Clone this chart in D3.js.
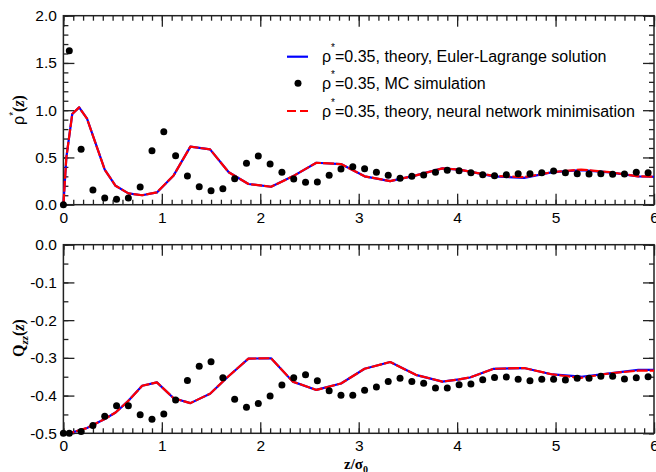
<!DOCTYPE html>
<html><head><meta charset="utf-8">
<script src="https://cdn.jsdelivr.net/npm/d3@7"></script>
<style>
body{margin:0;background:#fff;}
text{font-family:"Liberation Sans",Arial,Helvetica,sans-serif;}
</style></head>
<body>
<svg id="c" width="656" height="472"></svg>
<script>
// ---------- data ----------
const xTicks = [0,1,2,3,4,5,6];
const rhoTicks = [0.0,0.5,1.0,1.5,2.0];
const rhoTickLabels = ["0.0","0.5","1.0","1.5","2.0"];
const qTicks = [0.0,-0.1,-0.2,-0.3,-0.4,-0.5];
const qTickLabels = ["0.0","-0.1","-0.2","-0.3","-0.4","-0.5"];

// theory grid (z/sigma0)
const zTheory = [0,0.03,0.09,0.16,0.24,0.42,0.53,0.66,0.80,0.95,1.12,1.29,1.49,1.68,1.88,2.11,2.33,2.57,2.82,3.06,3.32,3.58,3.85,4.02,4.13,4.37,4.68,4.97,5.26,5.55,5.84,6.0];
// rho*(z), Euler-Lagrange
const rhoEL = [0.0,0.50,0.96,1.03,0.91,0.37,0.20,0.12,0.10,0.13,0.31,0.614,0.586,0.343,0.219,0.19,0.30,0.444,0.43,0.30,0.25,0.31,0.385,0.372,0.35,0.30,0.284,0.345,0.365,0.343,0.300,0.296];
// rho*(z), neural network minimisation
const rhoNN = [0.0,0.50,0.96,1.03,0.91,0.37,0.20,0.12,0.10,0.13,0.31,0.614,0.586,0.343,0.219,0.19,0.30,0.444,0.43,0.30,0.25,0.31,0.385,0.372,0.35,0.305,0.292,0.345,0.372,0.345,0.300,0.296];
// Qzz(z), Euler-Lagrange
const qEL = [-0.5,-0.5,-0.498,-0.492,-0.486,-0.462,-0.445,-0.414,-0.374,-0.365,-0.407,-0.42,-0.395,-0.348,-0.302,-0.301,-0.363,-0.385,-0.368,-0.329,-0.311,-0.345,-0.363,-0.357,-0.352,-0.329,-0.327,-0.344,-0.350,-0.341,-0.332,-0.332];
// Qzz(z), neural network minimisation
const qNN = [-0.5,-0.5,-0.498,-0.492,-0.486,-0.462,-0.445,-0.414,-0.374,-0.365,-0.407,-0.42,-0.395,-0.348,-0.302,-0.301,-0.363,-0.385,-0.368,-0.329,-0.311,-0.345,-0.363,-0.357,-0.352,-0.329,-0.327,-0.344,-0.353,-0.341,-0.334,-0.334];

// MC simulation
const zMC = [0,0.06,0.18,0.30,0.42,0.54,0.66,0.78,0.90,1.02,1.14,1.26,1.38,1.50,1.62,1.74,1.86,1.98,2.10,2.22,2.34,2.46,2.58,2.70,2.82,2.94,3.06,3.18,3.30,3.42,3.54,3.66,3.78,3.90,4.02,4.14,4.26,4.38,4.50,4.62,4.74,4.86,4.98,5.10,5.22,5.34,5.46,5.58,5.70,5.82,5.94];
const rhoMC = [0.0,1.63,0.586,0.156,0.07,0.057,0.07,0.187,0.571,0.773,0.519,0.304,0.19,0.148,0.169,0.275,0.438,0.515,0.43,0.343,0.272,0.237,0.24,0.311,0.378,0.402,0.381,0.343,0.311,0.279,0.30,0.314,0.343,0.364,0.358,0.339,0.317,0.307,0.317,0.328,0.328,0.339,0.357,0.339,0.328,0.325,0.328,0.322,0.325,0.343,0.339];
const qMC = [-0.5,-0.5,-0.495,-0.479,-0.455,-0.427,-0.427,-0.451,-0.463,-0.449,-0.412,-0.36,-0.322,-0.31,-0.353,-0.41,-0.431,-0.421,-0.401,-0.372,-0.353,-0.345,-0.361,-0.387,-0.399,-0.399,-0.386,-0.377,-0.363,-0.354,-0.363,-0.367,-0.38,-0.38,-0.371,-0.369,-0.358,-0.352,-0.351,-0.357,-0.361,-0.357,-0.357,-0.359,-0.354,-0.354,-0.349,-0.349,-0.356,-0.353,-0.35];

const legendLabels = ["=0.35, theory, Euler-Lagrange solution","=0.35, MC simulation","=0.35, theory, neural network minimisation"];

// ---------- drawing ----------
const svg = d3.select("#c");
const x = d3.scaleLinear().domain([0,6]).range([63.4,654]);
const yTop = d3.scaleLinear().domain([0,2]).range([204.7,15.7]);
const yBot = d3.scaleLinear().domain([-0.5,0]).range([433.3,244.7]);

const BLUE="#0000ff", RED="#ff0000";
const MAJ=11, MIN=5;

function panel(y, yMajor, yMajorLabels, yMinorStep, theoryA, theoryB, mc){
  const [y0,y1] = y.range(); // bottom, top
  const g = svg.append("g");
  const xMinor = d3.range(0,6.0001,0.1).map(v=>+v.toFixed(2));
  const d = y.domain();
  const yMinor = d3.range(d[0], d[1]+1e-6, yMinorStep).map(v=>+v.toFixed(3));

  g.append("g").attr("transform",`translate(0,${y0})`)
    .call(d3.axisBottom(x).tickValues(xTicks).tickSize(-MAJ).tickPadding(7).tickFormat(d3.format("d")));
  g.append("g").attr("transform",`translate(0,${y0})`)
    .call(d3.axisBottom(x).tickValues(xMinor).tickSize(-MIN).tickFormat(""));
  g.append("g").attr("transform",`translate(0,${y1})`)
    .call(d3.axisTop(x).tickValues(xTicks).tickSize(-MAJ).tickFormat(""));
  g.append("g").attr("transform",`translate(0,${y1})`)
    .call(d3.axisTop(x).tickValues(xMinor).tickSize(-MIN).tickFormat(""));
  g.append("g").attr("transform",`translate(${x(0)},0)`)
    .call(d3.axisLeft(y).tickValues(yMajor).tickSize(-MAJ).tickPadding(6.5).tickFormat((v,i)=>yMajorLabels[i]));
  g.append("g").attr("transform",`translate(${x(0)},0)`)
    .call(d3.axisLeft(y).tickValues(yMinor).tickSize(-MIN).tickFormat(""));
  g.append("g").attr("transform",`translate(${x(6)},0)`)
    .call(d3.axisRight(y).tickValues(yMajor).tickSize(-MAJ).tickFormat(""));
  g.append("g").attr("transform",`translate(${x(6)},0)`)
    .call(d3.axisRight(y).tickValues(yMinor).tickSize(-MIN).tickFormat(""));
  g.selectAll(".domain").remove();
  g.selectAll(".tick line").attr("stroke","#222").attr("stroke-width",1.3);
  g.selectAll(".tick text").attr("font-size",15.5).attr("fill","#000")
    .style("font-family",'"Liberation Sans",Arial,sans-serif');

  g.append("rect").attr("x",x(0)).attr("y",y1).attr("width",x(6)-x(0)).attr("height",y0-y1)
    .attr("fill","none").attr("stroke","#222").attr("stroke-width",1.5);

  const line = d3.line().x((v,i)=>x(zTheory[i])).y(v=>y(v));
  g.append("path").datum(theoryA).attr("d",line).attr("fill","none")
    .attr("stroke",BLUE).attr("stroke-width",2.2).attr("stroke-linejoin","round");
  g.append("path").datum(theoryB).attr("d",line).attr("fill","none")
    .attr("stroke",RED).attr("stroke-width",2.2).attr("stroke-dasharray","11,2").attr("stroke-linejoin","round");
  g.append("g").selectAll("circle").data(mc).join("circle")
    .attr("cx",(v,i)=>x(zMC[i])).attr("cy",v=>y(v)).attr("r",3.5).attr("fill","#000");
}

panel(yTop, rhoTicks, rhoTickLabels, 0.1, rhoEL, rhoNN, rhoMC);
panel(yBot, qTicks, qTickLabels, 0.05, qEL, qNN, qMC);

// legend
const lg = svg.append("g");
const rows = [56.7, 83.3, 111];
lg.append("line").attr("x1",287).attr("x2",308).attr("y1",rows[0]).attr("y2",rows[0]).attr("stroke",BLUE).attr("stroke-width",2.2);
lg.append("circle").attr("cx",298).attr("cy",rows[1]).attr("r",3.5).attr("fill","#000");
lg.append("line").attr("x1",287).attr("x2",308).attr("y1",rows[2]).attr("y2",rows[2]).attr("stroke",RED).attr("stroke-width",2.2).attr("stroke-dasharray","9,4");
legendLabels.forEach((t,i)=>{
  const tx = lg.append("text").attr("x",322).attr("y",rows[i]+5.5).attr("font-size",16).attr("fill","#000");
  tx.append("tspan").text("ρ");
  tx.append("tspan").attr("dy",-11).attr("font-size",10).text("*");
  tx.append("tspan").attr("dy",11).text(t);
});

// axis titles
const serif = '"Liberation Serif","Times New Roman",serif';
const yl1 = svg.append("text").attr("transform","translate(24,110) rotate(-90)").attr("text-anchor","middle").attr("font-size",16).attr("fill","#000");
yl1.append("tspan").text("ρ");
yl1.append("tspan").attr("dy",-7).attr("font-size",10).text("*");
yl1.append("tspan").attr("dy",7).style("font-family",serif).attr("font-weight","bold").text("(");
yl1.append("tspan").style("font-family",serif).attr("font-weight","bold").attr("font-style","italic").text("z");
yl1.append("tspan").style("font-family",serif).attr("font-weight","bold").text(")");

const yl2 = svg.append("text").attr("transform","translate(24,338) rotate(-90)").attr("text-anchor","middle").attr("font-size",16).attr("fill","#000")
  .style("font-family",serif).attr("font-weight","bold");
yl2.append("tspan").text("Q");
yl2.append("tspan").attr("dy",4).attr("font-size",11).attr("font-style","italic").text("zz");
yl2.append("tspan").attr("dy",-4).text("(");
yl2.append("tspan").attr("font-style","italic").text("z");
yl2.append("tspan").text(")");

const xl = svg.append("text").attr("x",356).attr("y",469).attr("text-anchor","middle").attr("font-size",15).attr("fill","#000")
  .style("font-family",serif).attr("font-weight","bold");
xl.append("tspan").text("z/σ");
xl.append("tspan").attr("dy",4).attr("font-size",10).text("0");
</script>
</body></html>
